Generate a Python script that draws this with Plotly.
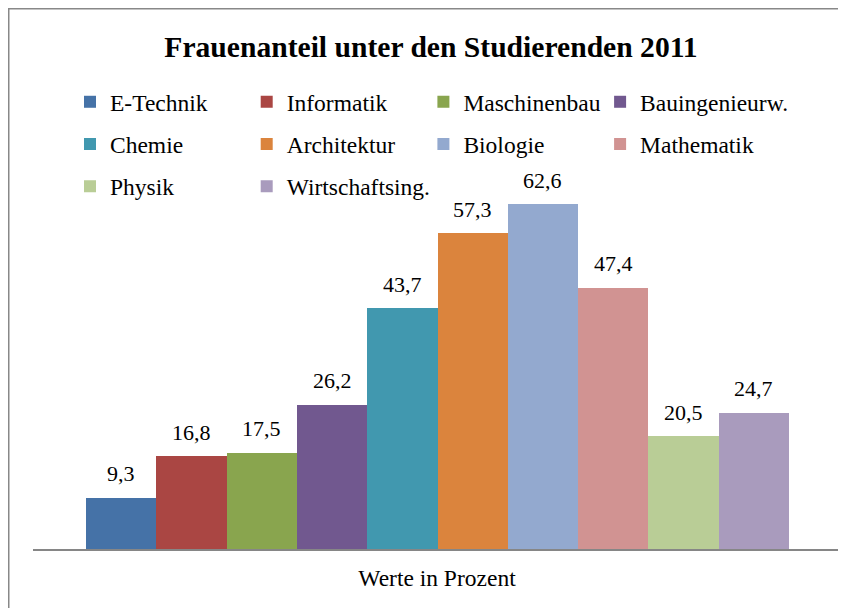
import plotly.graph_objects as go

categories = ["E-Technik", "Informatik", "Maschinenbau", "Bauingenieurw.",
              "Chemie", "Architektur", "Biologie", "Mathematik",
              "Physik", "Wirtschaftsing."]
values = [9.3, 16.8, 17.5, 26.2, 43.7, 57.3, 62.6, 47.4, 20.5, 24.7]
colors = ["#4572A7", "#AA4643", "#89A54E", "#71588F", "#4198AF",
          "#DB843D", "#93A9CF", "#D19392", "#B9CD96", "#A99BBD"]
title_text = "Frauenanteil unter den Studierenden 2011"
axis_label = "Werte in Prozent"

FONT = "Liberation Serif"
W, H = 846, 608
ML, MR, MT, MB = 25, 13, 183, 67
PW = W - ML - MR
PH = H - MT - MB


def px_to_paper_y(py):
    return (H - MB - py) / PH


def px_to_paper_x(px):
    return (px - ML) / PW


# legend grid: 4 columns, rows of 4
LEG_COLS = 4
LEG_X0, LEG_DX = 62, 176.7
LEG_Y0, LEG_DY = 94, 42.2

fig = go.Figure()
legend_layouts = {}
for i, (cat, val, col) in enumerate(zip(categories, values, colors)):
    lname = "legend" if i == 0 else f"legend{i + 1}"
    fig.add_trace(go.Bar(
        x=[cat], y=[val], name=cat, marker=dict(color=col, line=dict(width=0)),
        legend=lname, showlegend=True,
    ))
    r, c = divmod(i, LEG_COLS)
    legend_layouts[lname] = dict(
        orientation="h", font=dict(family=FONT, size=23.5, color="#000000"),
        itemwidth=30, bgcolor="rgba(0,0,0,0)", borderwidth=0,
        xanchor="left", yanchor="middle",
        x=px_to_paper_x(LEG_X0 + c * LEG_DX), y=px_to_paper_y(LEG_Y0 + r * LEG_DY),
        itemclick=False, itemdoubleclick=False,
    )
fig.update_layout(**legend_layouts)

for cat, val in zip(categories, values):
    fig.add_annotation(
        x=cat, y=val, text=f"{val:.1f}".replace(".", ","), showarrow=False,
        yanchor="middle", yshift=24, font=dict(family=FONT, size=22, color="#000000"),
    )

fig.add_shape(
    type="rect", xref="paper", yref="paper",
    x0=px_to_paper_x(0.5), x1=px_to_paper_x(W + 20),
    y0=px_to_paper_y(H + 20), y1=px_to_paper_y(0.5),
    line=dict(color="#888888", width=2), fillcolor="rgba(0,0,0,0)", layer="above",
)

bar_w = 70.3
fig.update_layout(
    width=W, height=H,
    margin=dict(l=ML, r=MR, t=MT, b=MB, pad=0),
    paper_bgcolor="#ffffff", plot_bgcolor="#ffffff",
    barmode="group", bargap=0, bargroupgap=0,
    title=dict(text=f"<b>{title_text}</b>", x=423 / W, xanchor="center",
               xref="container", yref="container", y=1 - 39 / H, yanchor="middle",
               font=dict(family=FONT, size=29.6, color="#000000")),
    xaxis=dict(
        type="category", categoryorder="array", categoryarray=categories,
        range=[-0.5 - 53 / bar_w, 9.5 + 52 / bar_w],
        showticklabels=False, ticks="", showgrid=False, zeroline=False,
        showline=True, linecolor="#868686", linewidth=2,
        title=dict(text=axis_label, standoff=20,
                   font=dict(family=FONT, size=23.5, color="#000000")),
        fixedrange=True,
    ),
    yaxis=dict(range=[0, 65], visible=False, showgrid=False, zeroline=False,
               fixedrange=True),
    font=dict(family=FONT),
)

fig.write_html("out.html")
